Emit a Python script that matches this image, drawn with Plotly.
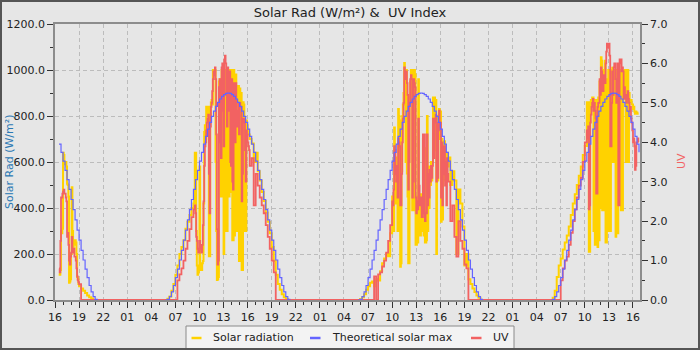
import pandas as pd
import plotly.graph_objects as go

# ---------------- data ----------------
# Each piece: (start time, step, values).  Pieces of one day join without a break.

# Theoretical solar max, W/m² (15-minute steps)
theo_d0 = ("2024-06-10 16:30", "15min",
           [678, 642, 604, 564, 523, 481, 437, 393, 348, 304, 260, 216, 174, 134, 97, 63, 35, 15, 3, 0])
theo_d1 = ("2024-06-11 05:45", "15min",
           [0, 3, 15, 35, 63, 97, 134, 174, 216, 260, 304, 348, 393, 437, 481, 523, 564, 604, 642, 678,
            711, 743, 772, 798, 821, 842, 859, 874, 885, 893, 898, 900, 898, 893, 885, 874, 859, 842, 821,
            798, 772, 743, 711, 678, 642, 604, 564, 523, 481, 437, 393, 348, 304, 260, 216, 174, 134, 97,
            63, 35, 15, 3, 0])
theo_d2 = ("2024-06-12 05:45", "15min",
           [0, 3, 15, 35, 63, 97, 134, 174, 216, 260, 304, 348, 393, 437, 481, 523, 564, 604, 642, 678,
            711, 743, 772, 798, 821, 842, 859, 874, 885, 893, 898, 900, 898, 893, 885, 874, 859, 842, 821,
            798, 772, 743, 711, 678, 642, 604, 564, 523, 481, 437, 393, 348, 304, 260, 216, 174, 134, 97,
            63, 35, 15, 3, 0])
theo_d3 = ("2024-06-13 05:45", "15min",
           [0, 3, 15, 35, 63, 97, 134, 174, 216, 260, 304, 348, 393, 437, 481, 523, 564, 604, 642, 678,
            711, 743, 772, 798, 821, 842, 859, 874, 885, 893, 898, 900, 898, 893, 885, 874, 859, 842, 821,
            798, 772, 743, 711, 678, 642])

# Solar radiation, W/m²
rad_d0_a = ("2024-06-10 16:30", "5min",
            [115, 110, 130, 300, 290, 310, 640, 630, 600, 590, 600, 580, 505, 500, 450,
             75, 80, 90, 200, 490, 300, 230, 250, 240, 260, 250, 200, 100, 90, 70])
rad_d0_b = ("2024-06-10 19:00", "15min", [60, 50, 40, 30, 20, 12, 6, 0])

rad_d1_a = ("2024-06-11 05:45", "15min", [0, 5, 15, 40, 70, 110, 150, 200, 230, 260, 310, 340, 370, 400])
rad_d1_b = ("2024-06-11 09:15", "5min",
            [420, 430, 640, 640, 300, 150, 110, 120, 130,
             580, 150, 140, 130, 160, 170, 420, 730, 760, 700, 840, 820,
             800, 840, 190, 190, 800, 860, 870, 850, 1000, 1000, 990, 1000,
             600, 300, 87, 90, 100, 950, 960, 450, 450, 1000, 1000, 470,
             200, 1000, 1000, 640, 300, 300, 1000, 450, 450, 1000, 470, 470,
             1000, 260, 260, 1000, 280, 600, 980, 600, 300, 300, 930, 170,
             920, 880, 900, 130, 130, 860, 850, 600, 300, 300, 780, 760,
             740, 730, 720])
rad_d1_c = ("2024-06-11 16:15", "15min",
            [700, 680, 600, 640, 560, 520, 470, 430, 380, 340, 290, 230, 170, 110, 70, 45, 25, 12, 4, 0])

rad_d2_a = ("2024-06-12 05:45", "15min",
            [0, 4, 12, 25, 45, 60, 75, 80, 60, 90, 85, 125, 160, 180, 200, 190, 290])
rad_d2_b = ("2024-06-12 10:00", "5min",
            [450, 300, 300, 750, 420, 420, 560, 620, 300, 830, 800, 780,
             145, 160, 560, 800, 850, 900, 1030, 1000, 600, 1000, 550, 450,
             160, 160, 880, 950, 1000, 1000, 390, 390, 1000, 1000, 980, 240,
             240, 450, 250, 960, 300, 300, 280, 460, 300, 300, 700, 280,
             660, 250, 250, 260, 800, 300, 580, 400, 560, 500, 600, 520,
             600, 880, 650, 880, 850, 870, 200, 800, 520, 700, 830, 760,
             820, 340, 700, 350, 680, 560, 690, 520, 600, 560, 640, 580])
rad_d2_c = ("2024-06-12 17:00", "15min",
            [620, 500, 560, 520, 200, 480, 420, 320, 150, 200, 90, 70, 50, 35, 20, 10, 0])

rad_d3_a = ("2024-06-13 05:45", "15min",
            [0, 10, 40, 100, 150, 180, 220, 250, 280, 320, 370, 420, 460, 500, 540, 580, 630, 670])
rad_d3_b = ("2024-06-13 10:15", "5min",
            [860, 700, 860, 210, 210, 820, 870, 850, 880,
             880, 300, 870, 240, 260, 870, 870, 230, 880, 260, 950, 400,
             1055, 1040, 390, 390, 1000, 920, 1040, 250, 250, 950, 960, 1000,
             300, 990, 300, 1000, 960, 1010, 600, 1000, 900, 980, 275, 300,
             1000, 290, 980, 1000, 960, 1000, 390, 1000, 390, 930, 960, 930,
             1000, 600, 1000, 980, 1000, 600, 900, 860, 860, 870, 850, 850,
             830, 840, 820, 810, 820, 815, 810, 815, 815])

# UV index
uv_d0_a = ("2024-06-10 16:30", "5min",
           [0.8, 0.7, 1.5, 2.6, 2.6, 2.7, 2.75, 2.8, 2.7, 2.7, 2.6, 2.5, 1.6, 1.7, 1.4,
            1.0, 0.9, 1.1, 1.2, 1.6, 1.3, 1.2, 1.3, 1.1, 1.1, 1.0, 0.8, 0.6, 0.5, 0.45])
uv_d0_b = ("2024-06-10 19:00", "15min", [0.4, 0])

uv_d1_a = ("2024-06-11 07:00", "15min", [0, 0.5, 0.65, 0.8, 1.0, 1.3, 1.5, 1.8, 2.1])
uv_d1_b = ("2024-06-11 09:15", "5min",
           [2.3, 2.3, 2.4, 2.2, 1.6, 1.5, 1.3, 1.2, 1.2,
            1.5, 1.4, 1.3, 1.2, 1.4, 1.9, 2.5, 3.4, 3.9, 4.0, 4.3, 4.5,
            4.6, 4.7, 3.2, 2.2, 4.4, 4.9, 5.0, 5.3, 5.6, 5.8, 5.7, 5.9,
            5.6, 4.2, 1.8, 0.9, 1.0, 5.4, 5.6, 4.0, 3.6, 5.9, 6.0, 4.8,
            3.9, 6.1, 6.2, 6.0, 5.2, 4.4, 5.9, 5.0, 4.8, 5.8, 3.5, 3.4,
            5.6, 3.0, 2.8, 5.5, 4.6, 4.0, 5.5, 4.8, 4.4, 4.4, 5.0, 4.2,
            5.0, 4.9, 4.9, 2.5, 3.2, 4.6, 4.6, 4.5, 3.8, 3.0, 4.3, 4.2,
            4.0, 3.9, 3.8])
uv_d1_c = ("2024-06-11 16:15", "15min",
           [3.4, 3.6, 2.4, 3.2, 2.9, 2.6, 2.4, 2.2, 1.9, 1.6, 1.3, 1.0, 0.7, 0])

uv_d2_a = ("2024-06-12 07:30", "15min", [0, 0.6, 0, 0.65, 0.7, 0.85, 1.0, 1.2, 1.5, 1.9])
uv_d2_b = ("2024-06-12 10:00", "5min",
           [2.5, 2.4, 2.8, 3.9, 3.8, 3.2, 3.0, 3.4, 2.6, 4.1, 4.0, 3.9,
            2.4, 2.4, 3.2, 4.0, 4.6, 5.0, 5.9, 5.7, 5.6, 5.8, 5.5, 5.2,
            2.8, 3.5, 5.0, 5.6, 5.7, 5.6, 2.6, 3.0, 5.6, 5.5, 5.4, 2.6,
            2.2, 2.5, 2.3, 4.6, 2.9, 2.4, 2.4, 2.6, 2.1, 2.1, 4.2, 2.2,
            4.2, 2.0, 2.2, 2.2, 4.2, 2.4, 3.2, 2.6, 3.3, 3.0, 3.4, 3.1,
            3.4, 4.6, 3.6, 4.6, 4.5, 4.7, 3.0, 4.5, 3.1, 4.3, 4.8, 4.4,
            4.5, 2.6, 4.0, 2.4, 3.9, 3.2, 3.9, 2.9, 3.5, 2.4, 3.6, 3.2])
uv_d2_c = ("2024-06-12 17:00", "15min", [3.0, 2.0, 2.4, 1.6, 1.1, 2.0, 1.5, 1.3, 0.9, 0.8, 0])

uv_d3_a = ("2024-06-13 06:45", "15min",
           [0, 0.5, 0.8, 1.0, 1.1, 1.4, 1.7, 2.0, 2.3, 2.6, 2.9, 3.1, 3.5, 4.0])
uv_d3_b = ("2024-06-13 10:15", "5min",
           [4.3, 4.1, 4.4, 2.3, 2.4, 4.5, 4.7, 4.9, 5.0,
            5.1, 4.8, 5.0, 4.8, 4.6, 2.7, 2.7, 4.9, 5.0, 5.0, 5.6, 5.2,
            5.9, 5.8, 5.3, 5.3, 5.7, 5.5, 5.5, 6.0, 6.3, 6.5, 6.4, 6.5,
            6.5, 6.2, 3.9, 3.9, 5.0, 5.8, 5.2, 5.9, 6.0, 6.0, 5.6, 5.0,
            5.0, 6.0, 2.4, 2.4, 6.1, 6.0, 6.1, 5.8, 5.9, 5.8, 5.1, 5.4,
            5.1, 5.2, 5.0, 5.2, 5.3, 5.1, 5.0, 4.8, 4.9, 4.6, 4.5, 4.3,
            4.0, 4.1, 3.9, 3.3, 3.4, 4.0, 4.0, 4.1, 4.0])

x_range = ["2024-06-10 16:00", "2024-06-13 16:52:30"]
title_text = "Solar Rad (W/m²) & \u00a0UV Index"
legend_names = ["Solar radiation", "Theoretical solar max", "UV"]
col_rad, col_theo, col_uv = "#ffd200", "#6464ff", "#f26262"


def join(days, gap):
    xs, ys = [], []
    for pieces in days:
        for start, step, vals in pieces:
            xs += list(pd.date_range(start, periods=len(vals), freq=step))
            ys += vals
        if gap:
            xs.append(xs[-1] + pd.Timedelta(minutes=2))
            ys.append(None)
    return xs, ys


uv_x, uv_y = join([[uv_d0_a, uv_d0_b], [uv_d1_a, uv_d1_b, uv_d1_c],
                   [uv_d2_a, uv_d2_b, uv_d2_c], [uv_d3_a, uv_d3_b]], False)
rad_x, rad_y = join([[rad_d0_a, rad_d0_b], [rad_d1_a, rad_d1_b, rad_d1_c],
                     [rad_d2_a, rad_d2_b, rad_d2_c], [rad_d3_a, rad_d3_b]], True)
th_x, th_y = join([[theo_d0], [theo_d1], [theo_d2], [theo_d3]], True)

W, H = 700, 350
L, R, T, B = 55, 60, 24, 50
pw, ph = W - L - R, H - T - B


def px(x):
    return (x - L) / pw


def py(y):
    return (H - B - y) / ph


fig = go.Figure()
# draw order: solar radiation, UV over it, theoretical max on top
fig.add_trace(go.Scatter(x=rad_x, y=rad_y, name=legend_names[0], mode="lines", line_shape="hv",
                         line=dict(color=col_rad, width=2), yaxis="y", connectgaps=False))
fig.add_trace(go.Scatter(x=uv_x, y=uv_y, name=legend_names[2], mode="lines", line_shape="hv",
                         line=dict(color=col_uv, width=1.8), yaxis="y2"))
fig.add_trace(go.Scatter(x=th_x, y=th_y, name=legend_names[1], mode="lines", line_shape="hv",
                         line=dict(color=col_theo, width=1.2), yaxis="y3", connectgaps=False))

grid = dict(gridcolor="#bcbcbc", griddash="4px,3px", gridwidth=1)
axline = dict(showline=True, linecolor="#8c8c8c", linewidth=1.5, zeroline=False, automargin=False)
tickst = dict(ticks="outside", ticklen=6, tickcolor="#333", tickwidth=1,
              tickfont=dict(size=11, color="#222"))

fig.update_layout(
    width=W, height=H, margin=dict(l=L, r=R, t=T, b=B, autoexpand=False),
    paper_bgcolor="#e6e6e6", plot_bgcolor="#e6e6e6",
    font=dict(family="DejaVu Sans", size=11, color="#222"),
    showlegend=False,
    title=dict(text=title_text, x=0.5, xanchor="center", y=1 - 12 / H, yanchor="middle",
               font=dict(size=13, color="#222")),
    xaxis=dict(type="date", range=x_range, tick0="2024-06-10 16:00", dtick=3 * 3600000,
               tickformat="%H", showgrid=True, mirror=True,
               minor=dict(dtick=3600000, ticks="outside", ticklen=3, tickcolor="#333", showgrid=False),
               **grid, **axline, **tickst),
    yaxis=dict(side="left", range=[0, 1200], dtick=200, tickformat=".1f", showgrid=True,
               minor=dict(dtick=100, ticks="outside", ticklen=3, tickcolor="#333", showgrid=False),
               **grid, **axline, **tickst),
    yaxis2=dict(side="right", overlaying="y", range=[0, 7], dtick=1, tickformat=".1f", showgrid=False,
                minor=dict(dtick=0.5, ticks="outside", ticklen=3, tickcolor="#333"),
                **axline, **tickst),
    yaxis3=dict(overlaying="y", range=[0, 1200], visible=False, automargin=False),
)

# axis titles
fig.add_annotation(text="Solar Rad (W/m²)", textangle=-90, x=px(9), y=py(162), xref="paper", yref="paper",
                   xanchor="center", yanchor="middle", showarrow=False,
                   font=dict(size=11, color="#2a78b4"))
fig.add_annotation(text="UV", textangle=-90, x=px(681), y=py(161), xref="paper", yref="paper",
                   xanchor="center", yanchor="middle", showarrow=False,
                   font=dict(size=11, color=col_uv))

# legend box
fig.add_shape(type="rect", xref="paper", yref="paper", x0=px(186), x1=px(514), y0=py(352), y1=py(326),
              fillcolor="#f3f3f3", line=dict(color="#8a8a8a", width=1))
leg_items = [(191.5, 201.5, 211, col_rad, legend_names[0]),
             (310, 320.5, 330, col_theo, legend_names[1]),
             (471, 481.5, 491, col_uv, legend_names[2])]
for x0, x1, tx, col, name in leg_items:
    fig.add_shape(type="line", xref="paper", yref="paper", x0=px(x0), x1=px(x1), y0=py(338), y1=py(338),
                  line=dict(color=col, width=2.5))
    fig.add_annotation(text=name, x=px(tx), y=py(337), xref="paper", yref="paper", xanchor="left",
                       yanchor="middle", showarrow=False, font=dict(size=11, color="#222"))

# outer frame
fig.add_shape(type="rect", xref="paper", yref="paper", x0=px(0), x1=px(W), y0=py(H), y1=py(0),
              line=dict(color="#555555", width=4), fillcolor="rgba(0,0,0,0)")

fig.write_html("out.html")
